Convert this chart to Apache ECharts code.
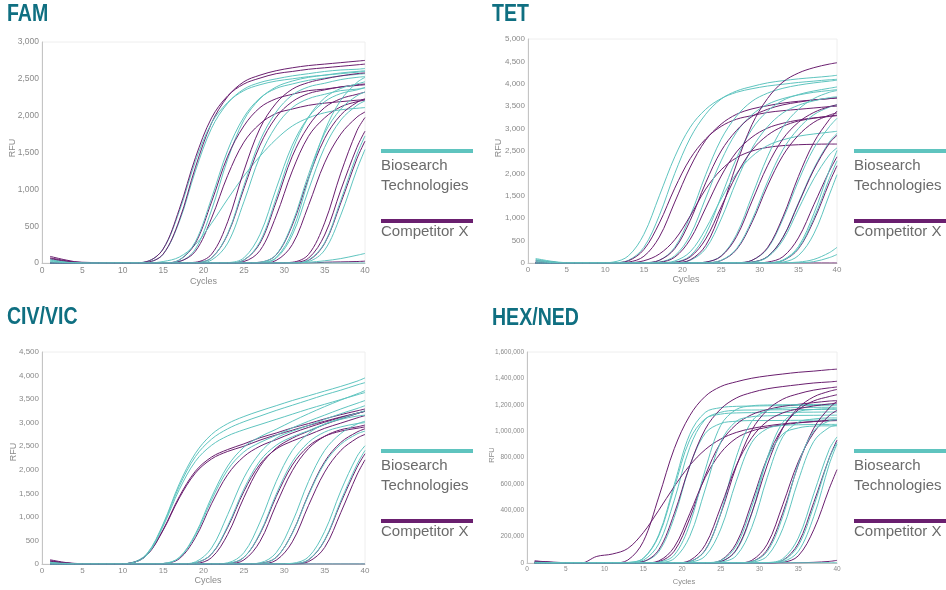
<!DOCTYPE html>
<html><head><meta charset="utf-8">
<script src="https://cdn.jsdelivr.net/npm/echarts@6/dist/echarts.min.js"></script>
<style>html,body{margin:0;padding:0;background:#fff}#c{width:946px;height:590px}</style>
</head><body><div id="c"></div>
<script>
// sampled cycles shared by every curve
const cycles = [1,3,5,7,9,11,13,15,17,19,21,23,25,27,29,31,33,35,37,39,40];
const xTicks = [0,5,10,15,20,25,30,35,40];
const panelTitles = ['FAM','TET','CIV/VIC','HEX/NED'];
const legendNames = ['Biosearch\nTechnologies','Competitor X'];

// ---------- FAM ----------
const famBio = [
 [50,20,0,0,0,0,10,120,560,1250,1830,2170,2360,2450,2500,2540,2570,2600,2620,2630,2640],
 [40,15,0,0,0,0,20,190,700,1380,1900,2180,2340,2420,2470,2500,2530,2550,2570,2590,2600],
 [0,0,0,0,0,0,0,0,20,190,720,1410,1940,2230,2390,2470,2520,2550,2580,2600,2610],
 [0,0,0,0,0,0,0,20,80,250,540,870,1180,1450,1680,1860,1970,2040,2080,2100,2110],
 [0,0,0,0,0,0,0,0,40,290,880,1530,1980,2240,2370,2430,2480,2510,2540,2560,2570],
 [0,0,0,0,0,0,0,0,0,5,70,400,1050,1660,2050,2280,2390,2440,2490,2520,2530],
 [0,0,0,0,0,0,0,0,0,0,40,270,830,1450,1860,2110,2230,2290,2340,2360,2380],
 [0,0,0,0,0,0,0,0,0,0,0,5,70,390,1010,1600,1980,2190,2300,2350,2380],
 [0,0,0,0,0,0,0,0,0,0,0,0,40,290,880,1530,1980,2240,2370,2430,2460],
 [0,0,0,0,0,0,0,0,0,0,0,0,0,10,115,540,1200,1760,2090,2270,2320],
 [0,0,0,0,0,0,0,0,0,0,0,0,0,5,65,380,990,1570,1940,2140,2200],
 [0,0,0,0,0,0,0,0,0,0,0,0,0,5,75,430,1130,1790,2210,2450,2520],
 [0,0,0,0,0,0,0,0,0,0,0,0,0,0,0,0,40,275,850,1475,1725],
 [0,0,0,0,0,0,0,0,0,0,0,0,0,0,0,0,20,175,650,1270,1540],
 [30,10,0,0,0,0,0,0,0,0,0,0,0,0,0,0,10,30,60,105,130],
 [20,5,0,0,0,0,0,0,0,0,0,0,0,0,0,0,0,0,0,0,0]
];
const famComp = [
 [90,40,5,0,0,0,10,120,580,1300,1900,2260,2460,2550,2610,2650,2680,2700,2720,2740,2750],
 [70,30,0,0,0,0,20,190,730,1430,1970,2270,2430,2510,2570,2600,2630,2650,2670,2690,2700],
 [0,0,0,0,0,0,0,0,20,160,610,1190,1640,1890,2030,2090,2140,2170,2190,2210,2220],
 [0,0,0,0,0,0,0,0,40,270,830,1450,1860,2110,2230,2290,2340,2360,2390,2410,2420],
 [0,0,0,0,0,0,0,0,0,5,70,390,1010,1600,1980,2190,2300,2350,2390,2420,2430],
 [0,0,0,0,0,0,0,0,0,10,120,560,1250,1830,2170,2360,2450,2500,2540,2570,2580],
 [0,0,0,0,0,0,0,0,0,0,0,0,40,270,830,1450,1860,2110,2230,2290,2320],
 [0,0,0,0,0,0,0,0,0,0,0,0,20,170,640,1250,1720,1970,2120,2190,2210],
 [0,0,0,0,0,0,0,0,0,0,0,0,0,10,110,515,1150,1690,2010,2180,2230],
 [0,0,0,0,0,0,0,0,0,0,0,0,0,0,35,250,780,1360,1750,1980,2050],
 [0,0,0,0,0,0,0,0,0,0,0,0,0,0,0,0,35,265,815,1415,1655],
 [0,0,0,0,0,0,0,0,0,0,0,0,0,0,0,5,65,380,990,1570,1790],
 [0,0,0,0,0,0,0,0,0,0,0,0,0,0,0,10,115,545,1220,1795,1975],
 [60,25,10,5,0,0,0,0,0,0,0,0,0,0,0,0,0,10,15,20,25]
];

// ---------- TET ----------
const tetBio = [
 [100,40,5,0,0,5,60,350,1060,2000,2790,3320,3660,3840,3940,4020,4070,4110,4140,4170,4190],
 [80,30,0,0,0,20,160,640,1500,2370,3030,3430,3670,3810,3890,3950,3990,4030,4060,4090,4100],
 [0,0,0,0,0,0,0,5,60,350,1050,1970,2760,3280,3610,3790,3900,3970,4020,4060,4080],
 [0,0,0,0,0,0,0,0,20,160,620,1450,2280,2920,3310,3540,3670,3750,3810,3850,3870],
 [0,0,0,0,0,0,0,0,0,20,160,640,1480,2340,2990,3390,3630,3760,3840,3900,3930],
 [0,0,0,0,0,0,0,0,0,5,60,320,980,1830,2560,3040,3350,3520,3620,3690,3710],
 [0,0,0,0,0,0,0,0,5,45,250,760,1430,2000,2380,2620,2750,2830,2880,2920,2940],
 [0,0,0,0,0,0,0,0,0,0,0,20,160,640,1500,2370,3030,3430,3670,3810,3850],
 [0,0,0,0,0,0,0,0,0,0,0,5,60,320,960,1810,2530,3000,3310,3480,3530],
 [0,0,0,0,0,0,0,0,0,0,0,0,0,5,60,320,980,1830,2560,3040,3230],
 [0,0,0,0,0,0,0,0,0,0,0,0,0,0,20,145,575,1340,2110,2700,2890],
 [0,0,0,0,0,0,0,0,0,0,0,0,0,0,15,130,510,1200,1880,2410,2570],
 [0,0,0,0,0,0,0,0,0,0,0,0,0,0,0,5,60,330,1000,1880,2280],
 [0,0,0,0,0,0,0,0,0,0,0,0,0,0,0,5,65,365,1100,2070,2510],
 [0,0,0,0,0,0,0,0,0,0,0,0,0,0,0,0,20,165,650,1520,1970],
 [60,20,0,0,0,0,0,0,0,0,0,0,0,0,0,0,5,20,80,230,350],
 [40,10,0,0,0,0,0,0,0,0,0,0,0,0,0,0,0,5,30,120,190]
];
const tetComp = [
 [60,20,0,0,0,5,50,300,890,1670,2330,2770,3050,3210,3290,3360,3400,3430,3460,3490,3500],
 [0,0,0,0,0,0,20,150,580,1360,2140,2740,3100,3320,3440,3510,3570,3610,3640,3670,3680],
 [0,0,0,0,0,0,5,50,200,520,1050,1650,2080,2350,2500,2580,2620,2640,2650,2655,2655],
 [0,0,0,0,0,0,0,5,60,320,950,1790,2500,2960,3270,3430,3530,3590,3640,3670,3690],
 [0,0,0,0,0,0,0,0,15,130,530,1230,1940,2480,2810,3010,3120,3190,3240,3270,3290],
 [0,0,0,0,0,0,0,0,0,5,70,390,1180,2210,3090,3670,4040,4240,4360,4440,4470],
 [0,0,0,0,0,0,0,0,0,15,135,535,1250,1970,2520,2850,3050,3170,3230,3280,3300],
 [0,0,0,0,0,0,0,0,0,0,0,5,55,300,910,1720,2400,2850,3140,3300,3350],
 [0,0,0,0,0,0,0,0,0,0,0,20,150,590,1380,2170,2770,3140,3360,3490,3530],
 [0,0,0,0,0,0,0,0,0,0,0,0,0,5,60,340,1030,1930,2690,3200,3390],
 [0,0,0,0,0,0,0,0,0,0,0,0,0,0,20,140,570,1320,2080,2670,2850],
 [0,0,0,0,0,0,0,0,0,0,0,0,0,0,0,5,55,315,950,1790,2170],
 [0,0,0,0,0,0,0,0,0,0,0,0,0,0,0,20,140,560,1300,2050,2370],
 [30,10,0,0,0,0,0,0,0,0,0,0,0,0,0,0,0,0,0,0,0]
];

// ---------- CIV/VIC ----------
const civBio = [
 [50,20,0,0,0,25,220,850,1700,2350,2750,2980,3130,3250,3360,3470,3570,3670,3770,3880,3950],
 [40,15,0,0,0,20,210,830,1650,2280,2650,2870,3020,3140,3260,3370,3480,3590,3690,3800,3850],
 [30,10,0,0,0,20,190,800,1580,2180,2520,2720,2850,2960,3070,3180,3290,3390,3490,3590,3640],
 [0,0,0,0,0,0,0,10,130,610,1360,2000,2380,2580,2730,2890,3030,3160,3290,3410,3470],
 [0,0,0,0,0,0,0,10,140,640,1420,2080,2480,2700,2860,3030,3190,3340,3480,3610,3680],
 [0,0,0,0,0,0,0,0,0,25,215,810,1590,2190,2520,2700,2830,2970,3090,3200,3250],
 [0,0,0,0,0,0,0,0,0,45,340,1050,1830,2360,2670,2820,2940,3070,3190,3300,3360],
 [0,0,0,0,0,0,0,0,0,0,0,15,140,660,1480,2170,2580,2800,2910,2980,3000],
 [0,0,0,0,0,0,0,0,0,0,0,25,240,890,1750,2410,2770,2970,3070,3140,3160],
 [0,0,0,0,0,0,0,0,0,0,0,0,0,10,140,650,1460,2140,2540,2760,2820],
 [0,0,0,0,0,0,0,0,0,0,0,0,0,25,240,890,1750,2410,2770,2970,3030],
 [0,0,0,0,0,0,0,0,0,0,0,0,0,0,0,5,90,510,1340,2110,2410],
 [0,0,0,0,0,0,0,0,0,0,0,0,0,0,0,15,150,690,1550,2280,2510],
 [30,10,0,0,0,0,0,0,0,0,0,0,0,0,0,0,0,0,0,0,0]
];
const civComp = [
 [90,30,5,0,0,20,190,730,1430,1970,2270,2430,2550,2680,2780,2890,2980,3080,3170,3250,3290],
 [70,20,0,0,0,20,190,715,1400,1930,2230,2390,2500,2630,2740,2840,2940,3030,3120,3200,3240],
 [0,0,0,0,0,0,0,10,110,560,1280,1900,2280,2500,2640,2780,2900,3010,3110,3200,3240],
 [0,0,0,0,0,0,0,0,0,25,210,780,1540,2120,2440,2610,2740,2880,2990,3100,3150],
 [0,0,0,0,0,0,0,0,0,10,135,630,1410,2070,2460,2670,2820,2960,3080,3190,3250],
 [0,0,0,0,0,0,0,0,0,0,0,10,140,640,1430,2100,2500,2710,2820,2880,2910],
 [0,0,0,0,0,0,0,0,0,0,0,5,85,480,1260,1980,2450,2710,2850,2910,2950],
 [0,0,0,0,0,0,0,0,0,0,0,0,0,15,140,660,1480,2170,2580,2800,2870],
 [0,0,0,0,0,0,0,0,0,0,0,0,0,5,80,470,1240,1950,2410,2670,2750],
 [0,0,0,0,0,0,0,0,0,0,0,0,0,0,0,0,50,350,1090,1890,2210],
 [0,0,0,0,0,0,0,0,0,0,0,0,0,0,0,5,85,500,1300,2050,2340],
 [60,20,0,0,0,0,0,0,0,0,0,0,0,0,0,0,0,0,0,0,0]
];

// ---------- HEX/NED ----------
const hexBio = [
 [0,0,0,0,0,0,4000,36000,214000,595000,976000,1142000,1178000,1188000,1190000,1192000,1193000,1194000,1195000,1196000,1196000],
 [0,0,0,0,0,0,2000,21000,145000,476000,876000,1090000,1143000,1158000,1160000,1161000,1162000,1163000,1164000,1165000,1165000],
 [0,0,0,0,0,0,1000,11000,86000,346000,734000,983000,1058000,1075000,1080000,1080000,1081000,1082000,1083000,1084000,1084000],
 [0,0,0,0,0,0,3000,34000,205000,570000,935000,1094000,1129000,1138000,1140000,1141000,1142000,1143000,1144000,1145000,1145000],
 [0,0,0,0,0,0,0,0,7000,60000,294000,708000,1044000,1164000,1192000,1198000,1200000,1201000,1202000,1203000,1203000],
 [0,0,0,0,0,0,0,0,3000,34000,202000,560000,918000,1075000,1109000,1116000,1118000,1119000,1120000,1121000,1121000],
 [0,0,0,0,0,0,0,0,0,1000,12000,94000,378000,802000,1074000,1156000,1174000,1179000,1180000,1181000,1181000],
 [0,0,0,0,0,0,0,0,0,0,6000,53000,257000,620000,914000,1019000,1043000,1048000,1050000,1051000,1051000],
 [0,0,0,0,0,0,0,0,0,0,0,1000,12000,94000,374000,796000,1065000,1147000,1164000,1170000,1170000],
 [0,0,0,0,0,0,0,0,0,0,0,0,7000,55000,270000,649000,957000,1067000,1092000,1100000,1100000],
 [0,0,0,0,0,0,0,0,0,0,0,2000,19000,130000,426000,785000,978000,1024000,1038000,1040000,1040000],
 [0,0,0,0,0,0,0,0,0,0,0,0,0,1000,11000,88000,352000,748000,1001000,1078000,1089000],
 [0,0,0,0,0,0,0,0,0,0,0,0,0,0,6000,53000,260000,625000,922000,1028000,1044000],
 [0,0,0,0,0,0,0,0,0,0,0,0,0,0,0,1000,11000,88000,352000,748000,902000],
 [0,0,0,0,0,0,0,0,0,0,0,0,0,0,0,2000,19000,131000,431000,793000,914000],
 [0,0,0,0,0,0,0,0,0,0,0,0,0,0,0,3000,32000,189000,525000,861000,956000],
 [6000,3000,2000,2000,2000,2000,2000,2000,2000,2000,2000,2000,2000,2000,2000,2000,2000,2000,2000,2000,2000]
];
const hexComp = [
 [15000,5000,0,0,0,0,22000,162000,500000,867000,1117000,1264000,1338000,1374000,1401000,1419000,1433000,1446000,1455000,1466000,1470000],
 [12000,5000,0,0,50000,68000,110000,230000,400000,580000,740000,860000,940000,990000,1020000,1040000,1055000,1065000,1072000,1078000,1080000],
 [10000,4000,0,0,0,0,0,11000,100000,375000,737000,1015000,1168000,1251000,1293000,1321000,1338000,1352000,1365000,1373000,1378000],
 [0,0,0,0,0,0,0,0,10000,90000,338000,663000,913000,1050000,1125000,1163000,1188000,1203000,1216000,1228000,1231000],
 [0,0,0,0,0,0,0,0,16000,121000,374000,649000,836000,946000,1001000,1029000,1048000,1062000,1073000,1082000,1086000],
 [0,0,0,0,0,0,0,0,0,0,11000,99000,373000,731000,1007000,1159000,1242000,1283000,1311000,1328000,1335000],
 [0,0,0,0,0,0,0,0,0,0,19000,138000,425000,738000,950000,1075000,1138000,1169000,1191000,1206000,1213000],
 [0,0,0,0,0,0,0,0,0,0,0,0,20000,149000,459000,797000,1026000,1161000,1229000,1262000,1276000],
 [0,0,0,0,0,0,0,0,0,0,0,0,11000,101000,378000,742000,1022000,1176000,1260000,1302000,1316000],
 [0,0,0,0,0,0,0,0,0,0,0,0,0,0,20000,143000,442000,767000,988000,1118000,1157000],
 [0,0,0,0,0,0,0,0,0,0,0,0,0,0,11000,101000,378000,742000,1022000,1176000,1225000],
 [0,0,0,0,0,0,0,0,0,0,0,0,0,0,0,0,5000,54000,252000,564000,708000],
 [0,0,0,0,0,0,0,0,0,0,0,0,0,0,0,0,20000,149000,459000,797000,932000],
 [15000,8000,2000,0,0,0,0,0,0,0,0,0,0,0,0,0,0,2000,5000,12000,20000]
];

const yMax = [3000, 5000, 4500, 1600000];
const yStep = [500, 500, 500, 200000];

const TEAL = '#5fc4bf', PURPLE = '#6a1f6f', TITLE = '#0f6f81', GREY_TXT = '#6b6b6b';
const grids = [
  {left:42, top:42, width:323, height:221},
  {left:528, top:39, width:309, height:224},
  {left:42, top:352, width:323, height:212},
  {left:527, top:352, width:310, height:211}
];
const labelSize = [8.5, 8, 8, 6.5];
const nameSize = [9, 9, 9, 7.5];
const allBio = [famBio, tetBio, civBio, hexBio];
const allComp = [famComp, tetComp, civComp, hexComp];

const chart = echarts.init(document.getElementById('c'), null, {renderer:'canvas'});
const FONT = '"Liberation Sans", Arial, sans-serif';

const xAxis = [], yAxis = [], series = [];
grids.forEach((g, i) => {
  xAxis.push({gridIndex:i, type:'value', min:0, max:40, interval:5,
    axisLine:{lineStyle:{color:'#c4c4c4', width:1}}, axisTick:{show:false}, splitLine:{show:false},
    axisLabel:{fontSize:labelSize[i], color:'#8a8a8a', margin:3, fontFamily:FONT}});
  yAxis.push({gridIndex:i, type:'value', min:0, max:yMax[i], interval:yStep[i],
    axisLine:{show:true, lineStyle:{color:'#c4c4c4', width:1}}, axisTick:{show:false}, splitLine:{show:false},
    axisLabel:{fontSize:labelSize[i], color:'#8a8a8a', margin:3, fontFamily:FONT,
      formatter: v => v.toLocaleString('en-US')}});
  const bio = allBio[i], comp = allComp[i];
  const n = Math.max(bio.length, comp.length);
  const mk = (arr, color) => ({type:'line', xAxisIndex:i, yAxisIndex:i,
    data: cycles.map((c, k) => [c, arr[k]]), showSymbol:false, symbol:'none',
    smooth:0.35, clip:true, silent:true, animation:false,
    lineStyle:{width:1, color:color}, itemStyle:{color:color}});
  for (let k = 0; k < n; k++) {
    if (bio[k]) series.push(mk(bio[k], TEAL));
    if (comp[k]) series.push(mk(comp[k], PURPLE));
  }
});

const graphic = [];
const titlePos = [[7,3.5],[492,3.5],[7,306],[492,307]];
titlePos.forEach((p, i) => graphic.push({type:'text', x:p[0], y:p[1], scaleX:0.85,
  style:{text:panelTitles[i], font:'bold 23px ' + FONT, fill:TITLE, textVerticalAlign:'top'}}));
const rfuPos = [[12.7,148],[498.3,148],[13.3,452],[491.7,455]];
rfuPos.forEach((p, i) => graphic.push({type:'text', x:p[0], y:p[1], rotation:Math.PI/2,
  style:{text:'RFU', font:nameSize[i] + 'px ' + FONT, fill:'#8a8a8a', textAlign:'center', textVerticalAlign:'middle'}}));
const cycPos = [[203.5,281.5],[686,280],[208,581],[684,581.5]];
cycPos.forEach((p, i) => graphic.push({type:'text', x:p[0], y:p[1],
  style:{text:'Cycles', font:nameSize[i] + 'px ' + FONT, fill:'#8a8a8a', textAlign:'center', textVerticalAlign:'middle'}}));
const legPos = [[381,0],[854,0],[381,300],[854,300]];
legPos.forEach(p => {
  const x = p[0], dy = p[1];
  graphic.push({type:'rect', shape:{x:x, y:149+dy, width:92, height:4}, style:{fill:TEAL}});
  graphic.push({type:'text', x:x, y:156.3+dy, style:{text:legendNames[0], font:'15px ' + FONT, fill:GREY_TXT, textVerticalAlign:'top', lineHeight:20}});
  graphic.push({type:'rect', shape:{x:x, y:219+dy, width:92, height:4}, style:{fill:PURPLE}});
  graphic.push({type:'text', x:x, y:224.7+dy, style:{text:legendNames[1], font:'15px ' + FONT, fill:GREY_TXT, textVerticalAlign:'top'}});
});

chart.setOption({
  animation:false,
  backgroundColor:'#fff',
  grid: grids.map(g => Object.assign({show:true, borderColor:'#eeeeee', borderWidth:1, backgroundColor:'transparent', containLabel:false}, g)),
  xAxis, yAxis, series, graphic
});
</script></body></html>
